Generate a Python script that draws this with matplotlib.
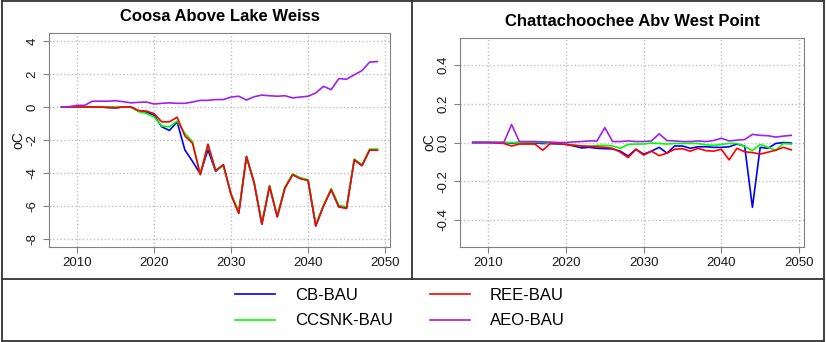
import numpy as np
import matplotlib.pyplot as plt
from matplotlib.lines import Line2D

plt.rcParams['font.family'] = ['Liberation Sans', 'DejaVu Sans']

years = np.arange(2008, 2050)

# Coosa Above Lake Weiss
coosa_cb = [0, 0, 0, 0, 0, 0, -0.03, -0.05, 0, 0, -0.25, -0.3, -0.5, -1.2, -1.42, -0.9,
            -2.6, -3.3, -4.05, -2.6, -3.9, -3.5, -5.3, -6.4, -3.0, -4.6, -7.1, -4.8,
            -6.65, -4.9, -4.1, -4.3, -4.45, -7.2, -6.0, -5.0, -6.05, -6.1, -3.2, -3.55,
            -2.6, -2.6]
coosa_ccsnk = [0, 0, 0, 0, 0, 0, 0, 0, 0, 0, -0.28, -0.4, -0.6, -1.15, -1.2, -0.85,
               -1.6, -2.1, -4.1, -2.3, -3.85, -3.55, -5.25, -6.35, -3.0, -4.55, -7.05,
               -4.75, -6.6, -4.85, -4.05, -4.3, -4.4, -7.15, -5.95, -4.95, -5.95, -6.05,
               -3.15, -3.5, -2.55, -2.55]
coosa_ree = [0, 0, 0, 0, 0, 0, -0.03, -0.05, 0, 0, -0.22, -0.25, -0.4, -0.9, -0.9, -0.62,
             -1.75, -2.2, -4.1, -2.25, -3.85, -3.5, -5.3, -6.45, -3.0, -4.6, -7.1, -4.8,
             -6.65, -4.9, -4.1, -4.35, -4.45, -7.2, -6.0, -5.0, -6.05, -6.15, -3.2, -3.55,
             -2.6, -2.62]
coosa_aeo = [0, 0.02, 0.1, 0.1, 0.35, 0.35, 0.35, 0.38, 0.32, 0.25, 0.28, 0.3, 0.18, 0.22,
             0.25, 0.22, 0.22, 0.3, 0.4, 0.4, 0.45, 0.45, 0.6, 0.65, 0.42, 0.62, 0.72,
             0.68, 0.65, 0.68, 0.55, 0.6, 0.65, 0.85, 1.25, 1.05, 1.72, 1.68, 1.95, 2.2,
             2.72, 2.75]

# Chattachoochee Abv West Point
chatt_cb = [0, 0, 0, 0, 0, -0.003, 0, -0.003, -0.003, -0.005, -0.005, -0.008, -0.01,
            -0.018, -0.028, -0.025, -0.03, -0.032, -0.033, -0.045, -0.07, -0.035, -0.06,
            -0.045, -0.025, -0.055, -0.018, -0.018, -0.03, -0.022, -0.022, -0.025, -0.025,
            -0.022, -0.008, -0.018, -0.335, -0.025, -0.03, -0.005, 0.0, -0.003]
chatt_ccsnk = [0, 0, 0, 0, 0, 0, 0, 0, 0, 0, -0.005, -0.005, -0.008, -0.012, -0.018, -0.02,
               -0.015, -0.015, -0.018, -0.03, -0.01, -0.008, -0.008, -0.003, -0.005,
               -0.008, -0.005, -0.005, -0.005, -0.005, -0.012, -0.015, -0.01, -0.005,
               -0.005, -0.02, -0.042, -0.01, -0.025, -0.04, -0.005, -0.008]
chatt_ree = [0, 0, 0, -0.003, -0.005, -0.018, -0.008, -0.008, -0.008, -0.04, -0.005, -0.005,
             -0.01, -0.015, -0.018, -0.02, -0.022, -0.025, -0.03, -0.05, -0.078, -0.035,
             -0.065, -0.045, -0.068, -0.055, -0.035, -0.032, -0.045, -0.03, -0.042, -0.045,
             -0.035, -0.09, -0.03, -0.048, -0.052, -0.06, -0.05, -0.04, -0.025, -0.038]
chatt_aeo = [0, 0, 0, 0, 0, 0.093, 0.005, 0.005, 0.005, 0.003, 0.002, 0.0, 0.0, 0.003,
             0.005, 0.008, 0.008, 0.077, 0.005, 0.005, 0.008, 0.005, 0.005, 0.008, 0.045,
             0.01, 0.008, 0.005, 0.005, 0.008, 0.005, 0.01, 0.022, 0.008, 0.012, 0.015,
             0.042, 0.037, 0.035, 0.028, 0.033, 0.037]

labels = ['CB-BAU', 'CCSNK-BAU', 'REE-BAU', 'AEO-BAU']
colors = ['#0000FF', '#00FF00', '#FF0000', '#A020F0']

fig = plt.figure(figsize=(8.26, 3.42), dpi=100)
W, H = 826, 342


def fx(px):
    return px / W


def fy(py):
    return 1 - py / H


def style_axes(ax, title, yticks, ylim, ytl, pad):
    ax.set_xlim(2006.36, 2050.64)
    ax.set_ylim(ylim)
    ax.set_xticks([2010, 2020, 2030, 2040, 2050])
    ax.set_yticks(yticks)
    ax.set_yticklabels(ytl, rotation=90, va='center')
    ax.grid(True, color='#c0c0c0', linestyle=':', linewidth=1)
    ax.set_axisbelow(True)
    for s in ax.spines.values():
        s.set_color('#808080')
    ax.tick_params(colors='#808080', labelcolor='#1a1a1a', labelsize=9.5, length=4)
    ax.set_ylabel('oC', fontsize=10, color='#1a1a1a', labelpad=1)
    ax.set_title(title, fontsize=12, fontweight='bold', pad=pad)


ax1 = fig.add_axes([fx(49), fy(247), fx(390 - 49), (247 - 33) / H])
series1 = [coosa_cb, coosa_ccsnk, coosa_ree, coosa_aeo]
for vals, c, lab in zip(series1, colors, labels):
    ax1.plot(years, vals, color=c, lw=1.2, label=lab)
style_axes(ax1, 'Coosa Above Lake Weiss', [-8, -6, -4, -2, 0, 2, 4], (-8.48, 4.48),
           ['-8', '-6', '-4', '-2', '0', '2', '4'], 8.5)

ax2 = fig.add_axes([fx(460), fy(247), fx(804 - 460), (247 - 38) / H])
series2 = [chatt_cb, chatt_ccsnk, chatt_ree, chatt_aeo]
for vals, c in zip(series2, colors):
    ax2.plot(years, vals, color=c, lw=1.2)
style_axes(ax2, 'Chattachoochee Abv West Point', [-0.4, -0.2, 0.0, 0.2, 0.4], (-0.54, 0.54),
           ['-0.4', '-0.2', '0.0', '0.2', '0.4'], 8.5)

# panel borders
bc = '#333333'
for x0, y0, x1, y1 in [(1.5, 1, 823.5, 1), (1.5, 340.5, 823.5, 340.5), (1.5, 1, 1.5, 340.5),
                       (823.5, 1, 823.5, 340.5), (412, 1, 412, 278.5), (1.5, 278.5, 823.5, 278.5)]:
    fig.add_artist(Line2D([fx(x0), fx(x1)], [fy(y0), fy(y1)], color=bc, lw=1.3))

fig.legend(*ax1.get_legend_handles_labels(), loc='center', ncol=2,
           bbox_to_anchor=(fx(400), fy(308)), frameon=False, fontsize=12,
           handlelength=2.4, handletextpad=1.2, columnspacing=2.2, labelspacing=0.65)

fig.savefig('out.png', dpi=100, facecolor='white')
